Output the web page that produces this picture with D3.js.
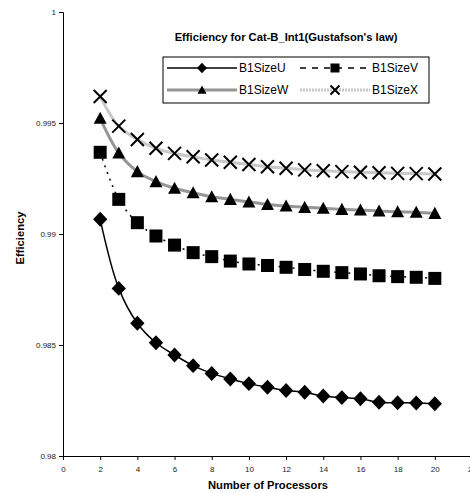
<!DOCTYPE html>
<html><head><meta charset="utf-8">
<script src="https://cdn.jsdelivr.net/npm/d3@7"></script>
<style>body{margin:0;background:#fff}svg{display:block;font-family:"Liberation Sans",Arial,sans-serif}</style>
</head><body><svg id="c" width="470" height="493"></svg>
<script>
const procs = [2,3,4,5,6,7,8,9,10,11,12,13,14,15,16,17,18,19,20];
const sizeU = [0.99066,0.98755,0.98598,0.98510,0.98455,0.98407,0.98372,0.98347,0.98326,0.98310,0.98295,0.98287,0.98270,0.98263,0.98258,0.98242,0.98240,0.98239,0.98235];
const sizeV = [0.99368,0.99156,0.99051,0.98991,0.98950,0.98916,0.98898,0.98878,0.98865,0.98858,0.98850,0.98840,0.98832,0.98826,0.98820,0.98812,0.98808,0.98805,0.98800];
const sizeW = [0.99521,0.99365,0.99281,0.99236,0.99206,0.99186,0.99168,0.99156,0.99144,0.99133,0.99126,0.99120,0.99116,0.99111,0.99108,0.99104,0.99100,0.99098,0.99093];
const sizeX = [0.99619,0.99486,0.99426,0.99386,0.99363,0.99348,0.99333,0.99323,0.99313,0.99303,0.99296,0.99289,0.99285,0.99281,0.99278,0.99276,0.99273,0.99272,0.99270];
const seriesNames = ["B1SizeU","B1SizeV","B1SizeW","B1SizeX"];
const xTicks = [0,2,4,6,8,10,12,14,16,18,20,22];
const yTicks = [0.98,0.985,0.99,0.995,1];
const title = "Efficiency for Cat-B_Int1(Gustafson's law)";
const xTitle = "Number of Processors";
const yTitle = "Efficiency";

const svg = d3.select("#c");
const x = d3.scaleLinear().domain([0,22]).range([63,472]);
const y = d3.scaleLinear().domain([0.98,1]).range([456,12]);

const styles = [
  {data:sizeU, stroke:"#000", width:1.5, dash:null, marker:"diamond"},
  {data:sizeV, stroke:"#000", width:1.5, dash:"2,5", marker:"square"},
  {data:sizeW, stroke:"#969696", width:3, dash:null, marker:"triangle"},
  {data:sizeX, stroke:"#c8c8c8", width:3, dash:null, marker:"cross"}
];

// axes
const ya = svg.append("g").attr("transform","translate(63,0)")
  .call(d3.axisLeft(y).tickValues(yTicks).tickSize(4).tickFormat(d=>d===1?"1":d3.format("")(+d.toFixed(3))));
const xa = svg.append("g").attr("transform","translate(0,456)")
  .call(d3.axisBottom(x).tickValues(xTicks).tickSize(4).tickFormat(d3.format("d")));
[ya,xa].forEach(a=>{
  a.select(".domain").attr("stroke","#000").attr("stroke-width",1);
  a.selectAll(".tick line").attr("stroke","#000");
  a.selectAll("text").attr("font-size",8).attr("fill","#222").attr("font-family","Liberation Sans, Arial, sans-serif");
});
xa.selectAll("text").attr("dy","1.1em");

function markerPath(type, s){
  if(type==="diamond") return `M0,${-s*1.15}L${s*1.1},0L0,${s*1.15}L${-s*1.1},0Z`;
  if(type==="square") return `M${-s},${-s}H${s}V${s}H${-s}Z`;
  if(type==="triangle") return `M0,${-s}L${s},${s*0.85}L${-s},${s*0.85}Z`;
  return `M${-s},${-s}L${s},${s}M${s},${-s}L${-s},${s}`;
}
function drawMarker(g, type, cx, cy, s){
  const p = g.append("path").attr("transform",`translate(${cx},${cy})`).attr("d",markerPath(type,s));
  if(type==="cross") p.attr("fill","none").attr("stroke","#000").attr("stroke-width",2);
  else p.attr("fill","#000");
}

const line = d3.line().x((d,i)=>x(procs[i])).y(d=>y(d)).curve(d3.curveCatmullRom.alpha(0.5));
const plot = svg.append("g");
styles.slice().reverse().forEach(s=>{
  const p = plot.append("path").attr("d",line(s.data)).attr("fill","none")
    .attr("stroke",s.stroke).attr("stroke-width",s.width);
  if(s.dash) p.attr("stroke-dasharray",s.dash);
});
styles.slice().reverse().forEach(s=>{
  s.data.forEach((v,i)=>drawMarker(plot,s.marker,x(procs[i]),y(v),6.5));
});

// titles
svg.append("text").attr("x",286).attr("y",41).attr("text-anchor","middle")
  .attr("font-size",11.2).attr("font-weight","bold").text(title);
svg.append("text").attr("x",268).attr("y",489).attr("text-anchor","middle")
  .attr("font-size",11.2).attr("font-weight","bold").text(xTitle);
svg.append("text").attr("transform","translate(24,238) rotate(-90)").attr("text-anchor","middle")
  .attr("font-size",11.2).attr("font-weight","bold").text(yTitle);

// legend
const lg = svg.append("g");
lg.append("rect").attr("x",163).attr("y",57).attr("width",266).attr("height",46)
  .attr("fill","#fff").attr("stroke","#000").attr("stroke-width",1);
const pos = [[167,68],[300,68],[167,90],[300,90]];
styles.forEach((s,i)=>{
  const [lx,ly] = pos[i];
  const l = lg.append("line").attr("x1",lx).attr("x2",lx+70).attr("y1",ly).attr("y2",ly)
    .attr("stroke",s.stroke).attr("stroke-width",s.width);
  if(s.dash) l.attr("stroke-dasharray","6,6");
  if(i===3) l.attr("stroke-dasharray","2,1");
  drawMarker(lg, s.marker, lx+35, ly, 4.5);
  lg.append("text").attr("x",lx+72).attr("y",ly+4.3).attr("font-size",12).text(seriesNames[i]);
});
</script></body></html>
